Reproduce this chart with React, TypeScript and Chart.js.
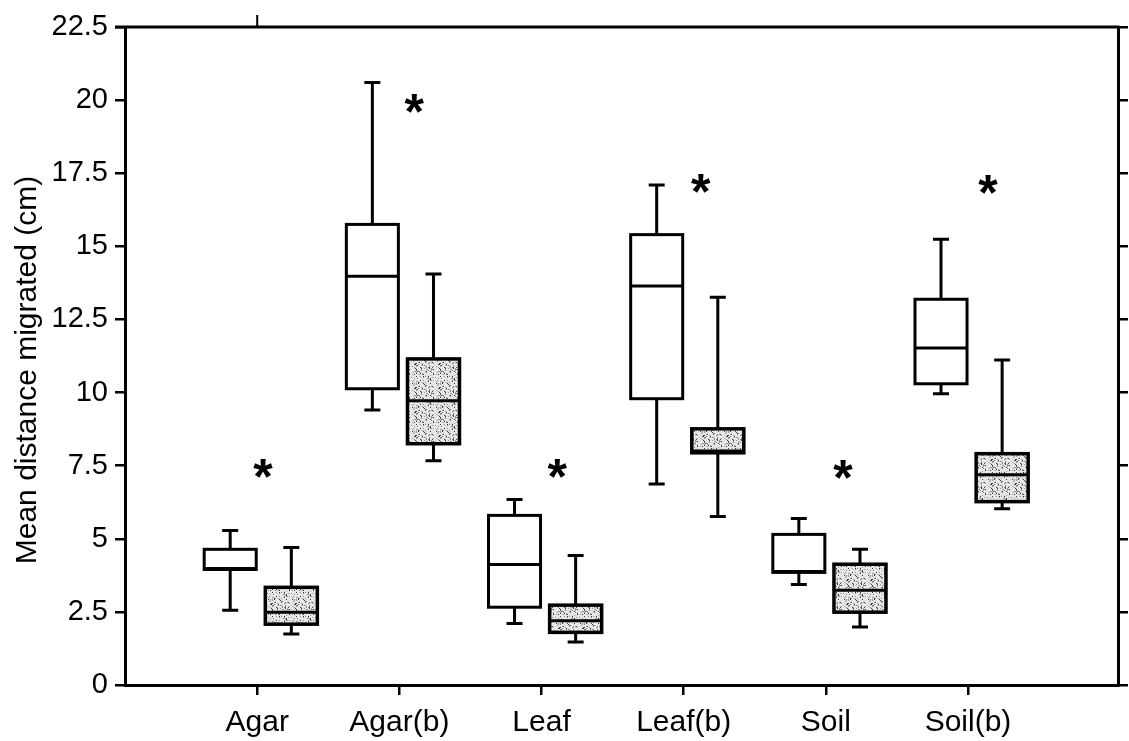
import React, { useEffect, useRef } from 'react';
import { Chart, registerables } from 'chart.js';

Chart.register(...registerables);

// Substrates along the x axis
const categories = ['Agar', 'Agar(b)', 'Leaf', 'Leaf(b)', 'Soil', 'Soil(b)'];

// Y axis tick values (cm)
const yTickValues = [0, 2.5, 5, 7.5, 10, 12.5, 15, 17.5, 20, 22.5];

// Open (white) boxes: five-number summaries per substrate
const openMin = [2.56, 9.4, 2.1, 6.87, 3.44, 9.96];
const openQ1 = [3.95, 10.13, 2.66, 9.79, 3.85, 10.3];
const openMedian = [3.98, 13.98, 4.12, 13.64, 3.88, 11.52];
const openQ3 = [4.64, 15.75, 5.8, 15.4, 5.15, 13.19];
const openMax = [5.28, 20.6, 6.34, 17.1, 5.69, 15.24];

// Shaded (stippled) boxes: five-number summaries per substrate
const shadedMin = [1.74, 7.67, 1.47, 5.76, 1.98, 6.03];
const shadedQ1 = [2.08, 8.25, 1.8, 7.94, 2.49, 6.27];
const shadedMedian = [2.49, 9.72, 2.2, 8.0, 3.24, 7.19];
const shadedQ3 = [3.34, 11.15, 2.73, 8.76, 4.13, 7.91];
const shadedMax = [4.7, 14.05, 4.43, 13.26, 4.64, 11.11];

// Significance markers (x in category units, y in cm)
const asteriskX = [1.04, 2.105, 3.11, 4.12, 5.12, 6.14];
const asteriskY = [7.4, 19.9, 7.4, 17.15, 7.36, 17.1];

const FONT = '"Liberation Sans", Arial, Helvetica, sans-serif';
const OPEN_OFFSET = -0.19;
const SHADED_OFFSET = 0.24;
const BOX_HALF = 0.183;
const CAP_HALF = 8;

function makeStipple(): CanvasPattern | string {
  const c = document.createElement('canvas');
  c.width = 24;
  c.height = 24;
  const g = c.getContext('2d');
  if (!g) return '#cccccc';
  g.fillStyle = '#e6e6e6';
  g.fillRect(0, 0, 24, 24);
  let s = 12345;
  for (let yy = 0; yy < 24; yy++) {
    for (let xx = 0; xx < 24; xx++) {
      s = (Math.imul(s, 1103515245) + 12345) >>> 0;
      const r = (s >>> 16) % 100;
      if (r < 21) {
        g.fillStyle = r < 7 ? '#404040' : '#939393';
        g.fillRect(xx, yy, 1, 1);
      }
    }
  }
  return g.createPattern(c, 'repeat') || '#cccccc';
}

function drawBox(
  ctx: CanvasRenderingContext2D,
  chart: any,
  xVal: number,
  lo: number,
  q1: number,
  med: number,
  q3: number,
  hi: number,
  fill: CanvasPattern | string,
  lw: number
) {
  const xs = chart.scales.x;
  const ys = chart.scales.y;
  const cx = xs.getPixelForValue(xVal);
  const half = xs.getPixelForValue(xVal + BOX_HALF) - cx;
  const pLo = ys.getPixelForValue(lo);
  const pQ1 = ys.getPixelForValue(q1);
  const pMed = ys.getPixelForValue(med);
  const pQ3 = ys.getPixelForValue(q3);
  const pHi = ys.getPixelForValue(hi);

  ctx.save();
  ctx.strokeStyle = '#000';
  ctx.lineWidth = 3;
  ctx.lineCap = 'butt';
  // whiskers
  ctx.beginPath();
  ctx.moveTo(cx, pQ3);
  ctx.lineTo(cx, pHi);
  ctx.moveTo(cx - CAP_HALF, pHi);
  ctx.lineTo(cx + CAP_HALF, pHi);
  ctx.moveTo(cx, pQ1);
  ctx.lineTo(cx, pLo);
  ctx.moveTo(cx - CAP_HALF, pLo);
  ctx.lineTo(cx + CAP_HALF, pLo);
  ctx.stroke();
  // box
  ctx.fillStyle = fill;
  ctx.fillRect(cx - half, pQ3, half * 2, pQ1 - pQ3);
  ctx.lineWidth = lw;
  ctx.strokeRect(cx - half, pQ3, half * 2, pQ1 - pQ3);
  // median
  ctx.lineWidth = 3;
  ctx.beginPath();
  ctx.moveTo(cx - half, pMed);
  ctx.lineTo(cx + half, pMed);
  ctx.stroke();
  ctx.restore();
}

export default function App() {
  const canvasRef = useRef<HTMLCanvasElement | null>(null);

  useEffect(() => {
    const canvas = canvasRef.current;
    if (!canvas) return;
    const stipple = makeStipple();

    const boxPlugin = {
      id: 'boxplots',
      afterDatasetsDraw(chart: any) {
        const ctx: CanvasRenderingContext2D = chart.ctx;
        categories.forEach((_, i) => {
          drawBox(ctx, chart, i + 1 + OPEN_OFFSET, openMin[i], openQ1[i], openMedian[i], openQ3[i], openMax[i], '#ffffff', 3);
          drawBox(ctx, chart, i + 1 + SHADED_OFFSET, shadedMin[i], shadedQ1[i], shadedMedian[i], shadedQ3[i], shadedMax[i], stipple, 3.5);
        });
        // significance asterisks
        const meta = chart.getDatasetMeta(0);
        ctx.save();
        ctx.fillStyle = '#000';
        ctx.font = `bold 50px ${FONT}`;
        ctx.textAlign = 'center';
        ctx.textBaseline = 'alphabetic';
        const m = ctx.measureText('*');
        const mid = (m.actualBoundingBoxAscent - m.actualBoundingBoxDescent) / 2;
        meta.data.forEach((pt: any) => {
          ctx.fillText('*', pt.x, pt.y + mid);
        });
        ctx.restore();
      },
      afterDraw(chart: any) {
        const ctx: CanvasRenderingContext2D = chart.ctx;
        const { left, right, top, bottom } = chart.chartArea;
        ctx.save();
        ctx.strokeStyle = '#000';
        // top frame line
        ctx.lineWidth = 3;
        ctx.beginPath();
        ctx.moveTo(left - 10, top);
        ctx.lineTo(right + 1.5, top);
        ctx.stroke();
        // single tick on the top frame
        const tx = chart.scales.x.getPixelForValue(1);
        ctx.lineWidth = 2;
        ctx.beginPath();
        ctx.moveTo(tx, top);
        ctx.lineTo(tx, top - 12);
        ctx.stroke();
        // y axis title
        ctx.fillStyle = '#000';
        ctx.font = `30px ${FONT}`;
        ctx.textAlign = 'center';
        ctx.textBaseline = 'middle';
        ctx.translate(28, (top + bottom) / 2 + 14);
        ctx.rotate(-Math.PI / 2);
        ctx.fillText('Mean distance migrated (cm)', 0, 0);
        ctx.restore();
      },
    };

    const chart = new Chart(canvas, {
      type: 'scatter',
      data: {
        datasets: [
          {
            label: 'significance',
            data: asteriskX.map((xv, i) => ({ x: xv, y: asteriskY[i] })),
            pointRadius: 0,
            pointHoverRadius: 0,
            showLine: false,
          },
        ],
      },
      options: {
        animation: false,
        responsive: false,
        devicePixelRatio: 1,
        events: [],
        layout: { padding: { top: 27, left: 0, right: 0, bottom: 0 } },
        plugins: { legend: { display: false }, tooltip: { enabled: false } },
        scales: {
          x: {
            type: 'linear',
            position: 'bottom',
            min: 0.07,
            max: 7.055,
            afterBuildTicks: (scale: any) => {
              scale.ticks = categories.map((_, i) => ({ value: i + 1 }));
            },
            afterFit: (scale: any) => {
              scale.height = 56;
            },
            ticks: {
              autoSkip: false,
              maxRotation: 0,
              padding: 10,
              color: '#000',
              font: { family: FONT, size: 30 },
              callback: (v: any) => categories[Math.round(Number(v)) - 1] ?? '',
            },
            grid: {
              drawOnChartArea: false,
              drawTicks: true,
              tickLength: 10,
              lineWidth: 2.5,
              color: '#000',
            },
            border: { display: true, color: '#000', width: 3 },
          },
          y: {
            type: 'linear',
            position: 'left',
            min: 0,
            max: 22.5,
            afterBuildTicks: (scale: any) => {
              scale.ticks = yTickValues.map((v) => ({ value: v }));
            },
            afterFit: (scale: any) => {
              scale.width = 125;
            },
            ticks: {
              padding: 7,
              color: '#000',
              font: { family: FONT, size: 29 },
              callback: (v: any) => String(v),
            },
            grid: {
              drawOnChartArea: false,
              drawTicks: true,
              tickLength: 10,
              lineWidth: 2.5,
              color: '#000',
            },
            border: { display: true, color: '#000', width: 3 },
          },
          y2: {
            type: 'linear',
            position: 'right',
            min: 0,
            max: 22.5,
            afterBuildTicks: (scale: any) => {
              scale.ticks = yTickValues.map((v) => ({ value: v }));
            },
            afterFit: (scale: any) => {
              scale.width = 11;
            },
            ticks: { display: false },
            grid: {
              drawOnChartArea: false,
              drawTicks: true,
              tickLength: 10,
              lineWidth: 2.5,
              color: '#000',
            },
            border: { display: true, color: '#000', width: 3 },
          },
        },
      },
      plugins: [boxPlugin],
    });

    return () => {
      chart.destroy();
    };
  }, []);

  return (
    <div style={{ position: 'fixed', left: 0, top: 0, width: 1129, height: 741, background: '#ffffff' }}>
      <canvas ref={canvasRef} width={1129} height={741} style={{ display: 'block' }} />
    </div>
  );
}
